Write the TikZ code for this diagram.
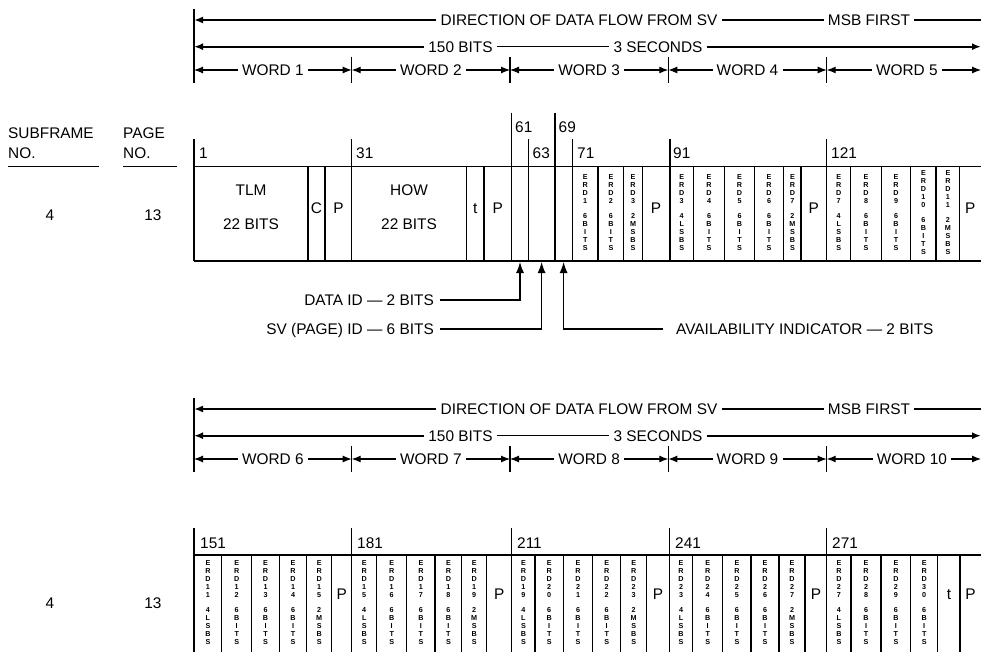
\documentclass[tikz,border=0pt]{standalone}
\usepackage{fontspec}
\setmainfont{Liberation Sans}
\usetikzlibrary{arrows.meta}
\def\vch#1{\ifx#1\relax\else\hbox to 0pt{\hss#1\hss}\expandafter\vch\fi}
\newcommand\vlab[2]{\vbox{\fontsize{7.2}{8}\selectfont\bfseries\baselineskip=8pt\lineskiplimit=-20pt\lineskip=0pt\expandafter\vch#1\relax\vskip7pt\expandafter\vch#2\relax}}
\tikzset{
  txt/.style={font=\fontsize{15.4}{18}\selectfont, inner sep=0pt, text height=11pt, text depth=0pt},
  lab/.style={txt, inner xsep=4pt},
  frame/.style={line width=1.2pt},
  thinln/.style={line width=1.1pt},
  thickln/.style={line width=2.2pt},
  tip/.style={-{Latex[length=9pt,width=7pt]}},
  vl/.style={inner sep=0pt},
}
\begin{document}
\begin{tikzpicture}[x=1pt,y=-1pt]
\useasboundingbox (0,0) rectangle (981,652);
% ---------------- top header arrows ----------------
\foreach \oy/\g in {0/a,389/b}{
  \begin{scope}[yshift=-\oy pt]
  \draw[frame] (194,9) -- (194,83);
  \foreach \x in {351.7,510,668.3,826.7} \draw[frame] (\x,57) -- (\x,83);
  \node[lab] (dir\g) at (579,20) {DIRECTION OF DATA FLOW FROM SV};
  \node[lab] (msb\g) at (869,20) {MSB FIRST};
  \coordinate (r1l\g) at (194,20);
  \coordinate (r1r\g) at (981,20);
  \draw[thickln,tip] (dir\g) -- (r1l\g);
  \draw[thinln] (dir\g) -- (msb\g);
  \draw[thinln] (msb\g) -- (r1r\g);
  \node[lab] (bits\g) at (460.5,46.7) {150 BITS};
  \node[lab] (secs\g) at (658,46.7) {3 SECONDS};
  \coordinate (r2l\g) at (194,46.7);
  \coordinate (r2r\g) at (981,46.7);
  \draw[thickln,tip] (bits\g) -- (r2l\g);
  \draw[thinln] (bits\g) -- (secs\g);
  \draw[thickln,tip] (secs\g) -- (r2r\g);
  \end{scope}
}
% word arrows
\foreach \oy/\g/\n in {0/a/0,389/b/5}{
  \begin{scope}[yshift=-\oy pt]
  \foreach \l/\r [count=\i] in {194/351.7,351.7/510,510/668.3,668.3/826.7,826.7/981}{
    \pgfmathtruncatemacro\wn{\i+\n}
    \coordinate (wl\g\i) at (\l,70);
    \coordinate (wr\g\i) at (\r,70);
    \node[lab] (w\g\i) at ({(\l+\r)/2+(\i==5?(\n==5?8:3):0)},70) {WORD \wn};
    \draw[thinln,tip] (w\g\i) -- (wl\g\i);
    \draw[thinln,tip] (w\g\i) -- (wr\g\i);
  }
  \end{scope}
}
% ---------------- left labels ----------------
\node[txt,anchor=west] (sf) at (8,133) {SUBFRAME};
\node[txt,anchor=west] (sfno) at (8,153) {NO.};
\node[txt,anchor=west] (pg) at (123,133) {PAGE};
\node[txt,anchor=west] (pgno) at (123,153) {NO.};
\draw[frame] (8,166.7) -- (99,166.7);
\draw[frame] (123,166.7) -- (177,166.7);
\node[txt] (sfa) at (50,215) {4};
\node[txt] (pga) at (153,215) {13};
\node[txt] (sfb) at (50,603) {4};
\node[txt] (pgb) at (153,603) {13};
% ---------------- top frame ----------------
\draw[frame] (194,166.7) -- (981,166.7);
\draw[frame] (194,261) -- (981,261);
\foreach \x in {194,308,325,351.7,466.7,484,511.7,528.3,555,572.3,598,623.7,642.3,670,693.3,724.7,754.3,783.7,801,826.7,850.7,881.3,910.7,936,959.7}
  \draw[frame] (\x,166.7) -- (\x,261);
\foreach \x/\t in {194/139,351.7/139,511.7/113,528.3/139,555/113,572.3/139,670/139,826.7/139}
  \draw[frame] (\x,\t) -- (\x,166.7);
\node[txt,anchor=west] (n1) at (199,153) {1};
\node[txt,anchor=west] (n31) at (356,153) {31};
\node[txt,anchor=west] (n61) at (515,127) {61};
\node[txt,anchor=west] (n63) at (532.5,153) {63};
\node[txt,anchor=west] (n69) at (558.5,127) {69};
\node[txt,anchor=west] (n71) at (577,153) {71};
\node[txt,anchor=west] (n91) at (673,153) {91};
\node[txt,anchor=west] (n121) at (831,153) {121};
\node[txt] (tlm) at (251,190) {TLM};
\node[txt] (tlmb) at (251,224) {22 BITS};
\node[txt] (how) at (409,190) {HOW};
\node[txt] (howb) at (409,224) {22 BITS};
\foreach \x/\s [count=\i] in {316.5/C,338.5/P,475.3/t,497.8/P,656/P,813.8/P,970.3/P}
  \node[txt] (tp\i) at (\x,208) {\s};
\foreach \x/\a/\b [count=\i] in {585.2/ERD1/6BITS,610.9/ERD2/6BITS,633/ERD3/2MSBS,
   681.7/ERD3/4LSBS,709/ERD4/6BITS,739.5/ERD5/6BITS,769/ERD6/6BITS,792.4/ERD7/2MSBS,
   838.7/ERD7/4LSBS,866/ERD8/6BITS,896/ERD9/6BITS,923.4/ERD10/6BITS,947.9/ERD11/2MSBS}
  \node[vl] (tv\i) at (\x,213) {\vlab{\a}{\b}};
% pointers below top frame
\node[txt,inner xsep=6pt,anchor=east] (dataid) at (440,300) {DATA ID — 2 BITS};
\node[txt,inner xsep=6pt,anchor=east] (svid) at (440,329) {SV (PAGE) ID — 6 BITS};
\node[txt,inner xsep=13pt,anchor=west] (avail) at (663,329) {AVAILABILITY INDICATOR — 2 BITS};
\coordinate (pa) at (520,262);
\coordinate (pb) at (541.6,262);
\coordinate (pc) at (563.6,262);
\draw[thinln,-{Latex[length=11pt,width=8pt]}] (dataid.east) -| (pa);
\draw[thinln,-{Latex[length=11pt,width=8pt]}] (svid.east) -| (pb);
\draw[thinln,-{Latex[length=11pt,width=8pt]}] (avail.west) -| (pc);
% ---------------- bottom frame ----------------
\draw[frame] (194,555) -- (981,555);
\foreach \x in {194,221.7,251.7,279.3,306.7,331.7,351.7,376.7,406.7,435,461.7,486.7,511.7,535,563.3,592.7,620.7,646.7,669.3,692.7,722.7,751,779,805,826.7,851,881,910.7,937.7,960}
  \draw[frame] (\x,555) -- (\x,652);
\foreach \x in {194,351.7,511.7,669.3,826.7}
  \draw[frame] (\x,528) -- (\x,555);
\node[txt,anchor=west] (n151) at (200,543) {151};
\node[txt,anchor=west] (n181) at (357,543) {181};
\node[txt,anchor=west] (n211) at (517,543) {211};
\node[txt,anchor=west] (n241) at (675,543) {241};
\node[txt,anchor=west] (n271) at (832,543) {271};
\foreach \x/\s [count=\i] in {341.7/P,499.2/P,658/P,815.9/P,948.9/t,970.5/P}
  \node[txt] (bp\i) at (\x,594) {\s};
\foreach \x/\a/\b [count=\i] in {207.9/ERD11/4LSBS,236.7/ERD12/6BITS,265.5/ERD13/6BITS,293/ERD14/6BITS,319.2/ERD15/2MSBS,
   364.2/ERD15/4LSBS,391.7/ERD16/6BITS,420.9/ERD17/6BITS,448.4/ERD18/6BITS,474.2/ERD19/2MSBS,
   523.4/ERD19/4LSBS,549.2/ERD20/6BITS,578/ERD21/6BITS,606.7/ERD22/6BITS,633.7/ERD23/2MSBS,
   681/ERD23/4LSBS,707.7/ERD24/6BITS,736.9/ERD25/6BITS,765/ERD26/6BITS,792/ERD27/2MSBS,
   838.9/ERD27/4LSBS,866/ERD28/6BITS,895.9/ERD29/6BITS,924.2/ERD30/6BITS}
  \node[vl] (bv\i) at (\x,603) {\vlab{\a}{\b}};
\end{tikzpicture}
\end{document}
